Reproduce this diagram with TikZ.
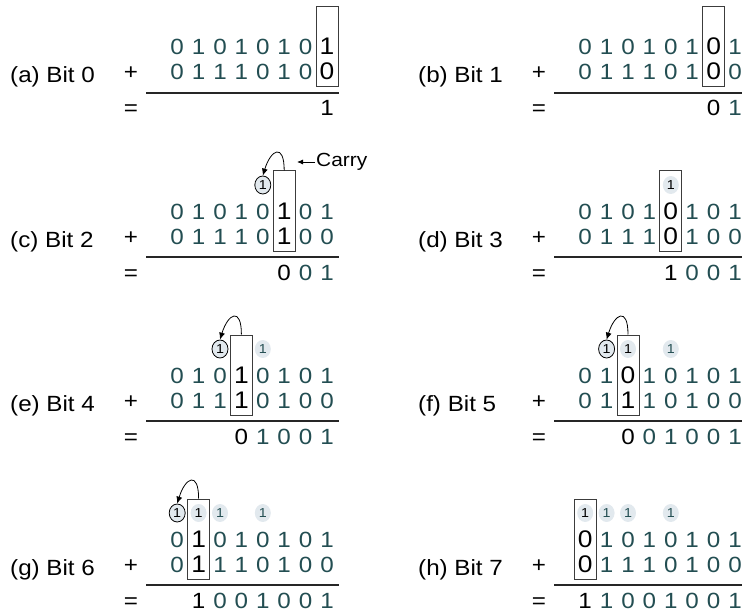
\documentclass[tikz,border=0pt]{standalone}
\usepackage{fontspec}
\setmainfont{Liberation Sans}[FakeStretch=1.1]
\usetikzlibrary{arrows.meta,shapes.geometric}
\definecolor{DigTeal}{RGB}{35,78,82}
\definecolor{BubGray}{RGB}{226,233,238}
\definecolor{BoxGray}{RGB}{60,60,60}
\tikzset{
  dig/.style={anchor=base,inner sep=0pt,text=DigTeal,font=\fontsize{22}{24}\selectfont},
  hot/.style={dig,text=black,font=\fontsize{24}{26}\selectfont},
  res/.style={dig,text=black},
  lbl/.style={anchor=base west,inner sep=0pt,font=\fontsize{22}{24}\selectfont},
  op/.style={anchor=base,inner sep=0pt,font=\fontsize{22}{24}\selectfont},
  colbox/.style={draw=BoxGray,line width=1pt,minimum width=22pt,minimum height=80pt,inner sep=0pt},
  bub/.style={ellipse,fill=BubGray,inner sep=0pt,minimum width=16pt,minimum height=18pt,
    text=DigTeal,font=\fontsize{13}{14}\selectfont},
  newbub/.style={bub,draw=black,line width=0.8pt,text=black},
  inbub/.style={bub,text=black},
  carryarc/.style={-{Latex[length=7pt,width=6pt]},line width=0.8pt},
  rule/.style={draw=black!85,line width=1.3pt},
}

\begin{document}
\begin{tikzpicture}[x=1pt,y=-1pt]
\useasboundingbox (0,0) rectangle (742,615);
% panels: name / x shift / y shift / bit
\foreach \p/\px/\py/\k in {a/0/0/0, b/408/0/1, c/0/164/2, d/408/164/3,
                           e/0/328/4, f/408/328/5, g/0/492/6, h/408/492/7}{
  \node[lbl] (\p-lbl) at (\px+10,\py+83) {(\p) Bit \k};
  \node[op] (\p-plus) at (\px+131,\py+80) {+};
  \node[op] (\p-eq) at (\px+131,\py+116) {=};
  \draw[rule] (\px+146,\py+93) -- (\px+339,\py+93);
  \node[colbox] (\p-box) at (\px+327-21.4*\k,\py+47) {};
  \foreach \ta/\tb/\ts [count=\j from 0] in {1/0/1,0/0/0,1/1/0,0/0/1,1/1/0,0/1/0,1/1/1,0/0/1}{
    \ifnum\j=\k \def\st{hot}\def\rs{res}\else\def\st{dig}\def\rs{dig}\fi
    \node[\st] (\p-t\j) at (\px+327-21.4*\j,\py+55) {\ta};
    \node[\st] (\p-b\j) at (\px+327-21.4*\j,\py+80) {\tb};
    \ifnum\j>\k\else\node[\rs] (\p-s\j) at (\px+327-21.4*\j,\py+116) {\ts};\fi
  }
}
% carries
\node[newbub] (c-c3) at (262.8,185) {1};
\draw[carryarc] (c-box.north) .. controls +(0,-28) and +(8,-26) .. (c-c3.north);
\node[anchor=west,inner sep=1pt,font=\fontsize{19}{21}\selectfont] (c-carry) at (315,162) {Carry};
\coordinate (c-cpt) at (297,162);
\draw[-{Latex[length=6pt,width=5pt]},line width=0.8pt] (c-carry.west) -- (c-cpt);

\node[inbub] (d-c3) at (670.8,185) {1};

\node[newbub] (e-c5) at (220,349) {1};
\node[bub] (e-c3) at (262.8,349) {1};
\draw[carryarc] (e-box.north) .. controls +(0,-28) and +(8,-26) .. (e-c5.north);

\node[inbub] (f-c5) at (628,349) {1};
\node[newbub] (f-c6) at (606.6,349) {1};
\node[bub] (f-c3) at (670.8,349) {1};
\draw[carryarc] (f-box.north) .. controls +(0,-28) and +(8,-26) .. (f-c6.north);

\node[inbub] (g-c6) at (198.6,513) {1};
\node[newbub] (g-c7) at (177.2,513) {1};
\node[bub] (g-c5) at (220,513) {1};
\node[bub] (g-c3) at (262.8,513) {1};
\draw[carryarc] (g-box.north) .. controls +(0,-28) and +(8,-26) .. (g-c7.north);

\node[inbub] (h-c7) at (585.2,513) {1};
\node[bub] (h-c6) at (606.6,513) {1};
\node[bub] (h-c5) at (628,513) {1};
\node[bub] (h-c3) at (670.8,513) {1};
\end{tikzpicture}
\end{document}
